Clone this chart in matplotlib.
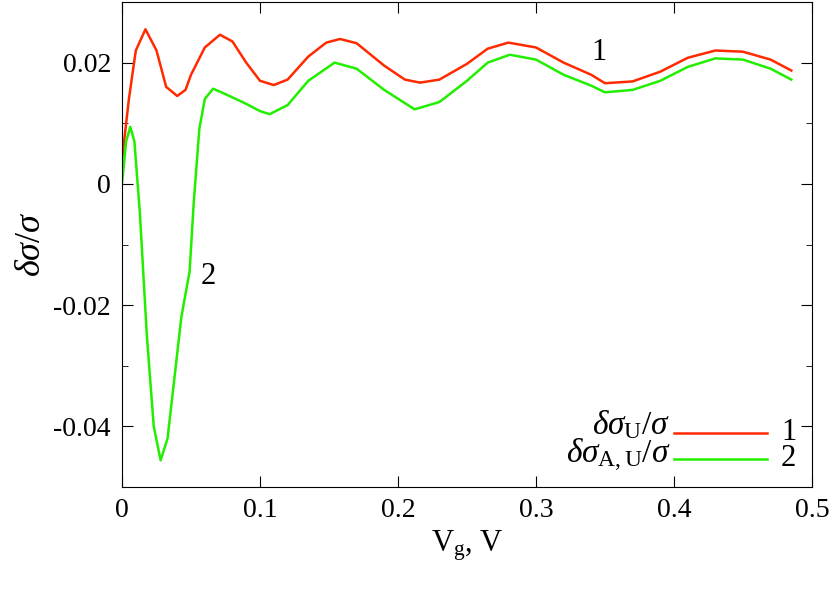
import matplotlib
matplotlib.use("Agg")
import matplotlib.pyplot as plt
from matplotlib.ticker import MultipleLocator

plt.rcParams['font.family'] = ['Liberation Serif', 'DejaVu Serif']
plt.rcParams['mathtext.fontset'] = 'custom'
plt.rcParams['mathtext.rm'] = 'Liberation Serif'
plt.rcParams['mathtext.it'] = 'Liberation Serif:italic'

red_x = [0, 0.005, 0.01, 0.017, 0.025, 0.032, 0.04, 0.046, 0.05, 0.06, 0.071, 0.08, 0.09, 0.1, 0.11, 0.12,
         0.135, 0.148, 0.158, 0.17, 0.19, 0.205, 0.216, 0.23, 0.25, 0.265, 0.28, 0.3, 0.32, 0.34, 0.35,
         0.37, 0.39, 0.41, 0.43, 0.45, 0.47, 0.485]
red_y = [0.004, 0.014, 0.022, 0.0255, 0.022, 0.016, 0.0145, 0.0155, 0.018, 0.0225, 0.0246, 0.0235, 0.02,
         0.017, 0.0163, 0.0172, 0.021, 0.0233, 0.0239, 0.0232, 0.0195, 0.0172, 0.0167, 0.0172, 0.0198,
         0.0223, 0.0233, 0.0225, 0.02, 0.018, 0.0166, 0.0169, 0.0185, 0.0208, 0.022, 0.0218, 0.0205, 0.0187]

green_x = [0, 0.003, 0.006, 0.009, 0.013, 0.018, 0.023, 0.028, 0.033, 0.038, 0.043, 0.049, 0.052, 0.056,
           0.06, 0.066, 0.075, 0.09, 0.1, 0.107, 0.12, 0.135, 0.154, 0.17, 0.19, 0.212, 0.23, 0.25, 0.265,
           0.281, 0.3, 0.32, 0.34, 0.35, 0.37, 0.39, 0.41, 0.43, 0.45, 0.47, 0.485]
green_y = [0, 0.007, 0.0094, 0.007, -0.005, -0.025, -0.04, -0.0456, -0.042, -0.032, -0.022, -0.0144,
           -0.003, 0.009, 0.014, 0.0157, 0.0148, 0.0132, 0.012, 0.0115, 0.013, 0.017, 0.02, 0.019, 0.0155,
           0.0123, 0.0135, 0.017, 0.02, 0.0213, 0.0205, 0.018, 0.0162, 0.0151, 0.0155, 0.017, 0.0193,
           0.0207, 0.0205, 0.019, 0.0172]

fig = plt.figure(figsize=(8.3, 5.91), dpi=100)
ax = fig.add_axes([122/830, 1-487/591, 690/830, 485/591])
ax.plot(red_x, red_y, color='#ff2a00', lw=1.8)
ax.plot(green_x, green_y, color='#22ee00', lw=1.8)
ax.set_xlim(0, 0.5)
ax.set_ylim(-0.05, 0.03)
ax.xaxis.set_major_locator(MultipleLocator(0.1))
ax.yaxis.set_major_locator(MultipleLocator(0.02))
ax.yaxis.set_minor_locator(MultipleLocator(0.01))
ax.xaxis.set_major_formatter(plt.FuncFormatter(lambda v, p: '0' if abs(v) < 1e-9 else f'{v:.1f}'))
ax.yaxis.set_major_formatter(plt.FuncFormatter(lambda v, p: '0' if abs(v) < 1e-9 else f'{v:.2f}'))
ax.tick_params(which='both', direction='in', top=True, right=True, labelsize=20, pad=8)
ax.tick_params(which='major', length=8)
ax.tick_params(which='minor', length=4)
ax.set_xlabel(r'V$_\mathrm{g}$, V', fontsize=22)
ax.set_ylabel(r'$\delta\sigma/\sigma$', fontsize=26)
ax.text(0.34, 0.0205, '1', fontsize=22)
ax.text(0.057, -0.0165, '2', fontsize=22)
# legend
ax.text(0.795, 0.128, r'$\delta\sigma_\mathrm{U}/\sigma$', transform=ax.transAxes, fontsize=24, ha='right', va='center')
ax.text(0.795, 0.065, r'$\delta\sigma_\mathrm{A,U}/\sigma$', transform=ax.transAxes, fontsize=24, ha='right', va='center')
ax.plot([0.8, 0.935], [0.112, 0.112], transform=ax.transAxes, color='#ff2a00', lw=1.8)
ax.plot([0.8, 0.935], [0.058, 0.058], transform=ax.transAxes, color='#22ee00', lw=1.8)
ax.text(0.955, 0.112, '1', transform=ax.transAxes, fontsize=22, va='center')
ax.text(0.955, 0.058, '2', transform=ax.transAxes, fontsize=22, va='center')
fig.savefig('out.png', dpi=100)
